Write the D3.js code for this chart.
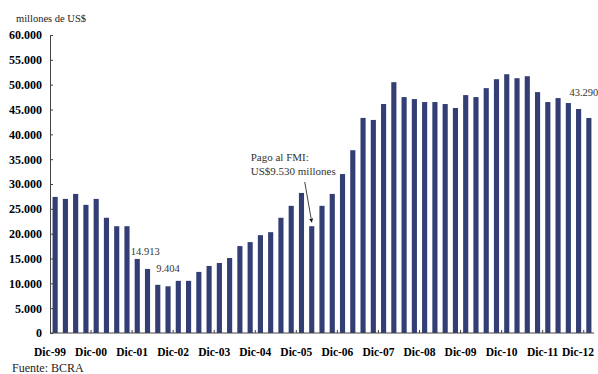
<!DOCTYPE html>
<html>
<head>
<meta charset="utf-8">
<script src="https://cdn.jsdelivr.net/npm/d3@7"></script>
<style>
  body { margin: 0; background: #fff; }
  svg { display: block; }
  svg text { font-family: "Liberation Serif", "DejaVu Serif", "Times New Roman", serif; }
</style>
</head>
<body>
<div id="chart"></div>
<script>
// reservas internacionales BCRA, trimestral, millones de US$
const years = ['99', '00', '01', '02', '03', '04', '05', '06', '07', '08', '09', '10', '11', '12'];
const quarters = ['Mar', 'Jun', 'Sep', 'Dic'];

const reservas = [
  27.4, 27.0, 28.0, 25.8, 27.0, 23.2, 21.5, 21.5, 14.913, 12.9,
  9.7, 9.404, 10.5, 10.5, 12.3, 13.5, 14.1, 15.1, 17.5, 18.3,
  19.7, 20.3, 23.2, 25.6, 28.2, 21.5, 25.6, 28.0, 32.0, 36.8,
  43.3, 42.9, 46.1, 50.5, 47.5, 47.1, 46.5, 46.5, 46.1, 45.3,
  47.9, 47.5, 49.3, 51.1, 52.1, 51.3, 51.7, 48.5, 46.5, 47.3,
  46.3, 45.1, 43.29
].map(v => v * 1000);

const yTicks = [0, 5000, 10000, 15000, 20000, 25000, 30000, 35000, 40000, 45000, 50000, 55000, 60000];

// categories: Dic-99, Mar-00, ... Dic-12
const categories = ['Dic-99'];
years.slice(1).forEach(y => quarters.forEach(q => categories.push(q + '-' + y)));

const data = categories.map((c, i) => ({ label: c, value: reservas[i] }));

const FONT = '"Liberation Serif", "DejaVu Serif", serif';
const width = 598, height = 374;
const margin = { top: 35, right: 4, bottom: 41, left: 50 };

const svg = d3.select('#chart')
  .append('svg')
  .attr('width', width)
  .attr('height', height);

const x = d3.scaleBand()
  .domain(categories)
  .range([margin.left, width - margin.right])
  .paddingInner(0.5)
  .paddingOuter(0.25);

const y = d3.scaleLinear()
  .domain([0, 60000])
  .range([height - margin.bottom, margin.top]);

const fmt = v => d3.format(',')(v).replace(/,/g, '.');
const step = x.step();
const boundary = c => x(c) + x.bandwidth() / 2 - step / 2;

// Bars
svg.selectAll('rect.bar')
  .data(data)
  .join('rect')
    .attr('class', 'bar')
    .attr('x', d => x(d.label))
    .attr('y', d => y(d.value))
    .attr('width', x.bandwidth())
    .attr('height', d => y(0) - y(d.value))
    .attr('fill', '#323e74');

// Y axis
const yAxis = svg.append('g')
  .attr('transform', `translate(${margin.left},0)`)
  .call(d3.axisLeft(y).tickValues(yTicks).tickFormat(fmt).tickSizeInner(-3).tickSizeOuter(0).tickPadding(8));

yAxis.attr('font-family', FONT);
yAxis.select('.domain').attr('stroke', '#444');
yAxis.selectAll('line').attr('stroke', '#444');
yAxis.selectAll('text')
  .attr('fill', '#000')
  .attr('font-family', FONT)
  .style('font-size', '12px')
  .style('font-weight', 'bold');

// X axis (labels at every December, ticks between groups)
const decs = categories.filter(c => c.startsWith('Dic'));
const xg = svg.append('g');
xg.append('line')
  .attr('x1', margin.left).attr('x2', width - margin.right)
  .attr('y1', y(0)).attr('y2', y(0))
  .attr('stroke', '#444');

xg.selectAll('line.tick')
  .data(decs.slice(1))
  .join('line')
    .attr('class', 'tick')
    .attr('x1', d => boundary(d)).attr('x2', d => boundary(d))
    .attr('y1', y(0)).attr('y2', y(0) - 3)
    .attr('stroke', '#444');

xg.selectAll('text')
  .data(decs)
  .join('text')
    .attr('x', d => boundary(d))
    .attr('y', y(0) + 23)
    .attr('text-anchor', 'middle')
    .attr('font-family', FONT)
    .style('font-size', '11.5px')
    .style('font-weight', 'bold')
    .text(d => d)
    .each(function (d) {
      // keep the last label inside the picture
      const half = this.getComputedTextLength() / 2;
      const cx = Math.min(boundary(d), width - 4 - half);
      d3.select(this).attr('x', cx);
    });

// Titles
svg.append('text')
  .attr('x', 16).attr('y', 22)
  .attr('font-family', FONT)
  .style('font-size', '10.5px')
  .attr('fill', '#222')
  .text('millones de US$');

svg.append('text')
  .attr('x', 12).attr('y', 372)
  .attr('font-family', FONT)
  .style('font-size', '12px')
  .attr('fill', '#222')
  .text('Fuente: BCRA');

// Value annotations
const note = (cat, dx, dy, txt) => svg.append('text')
  .attr('x', x(cat) + x.bandwidth() / 2 + dx)
  .attr('y', y(reservas[categories.indexOf(cat)]) + dy)
  .attr('text-anchor', 'middle')
  .attr('font-family', FONT)
  .style('font-size', '10.5px')
  .attr('fill', '#333')
  .text(txt);

note('Dic-01', 8, -4, fmt(reservas[categories.indexOf('Dic-01')]));
note('Sep-02', 0, -14, fmt(reservas[categories.indexOf('Sep-02')]));
note('Dic-12', -5, -22, fmt(reservas[categories.indexOf('Dic-12')]));

// Pago al FMI
const pago = 'Mar-06';
const px = x(pago) + x.bandwidth() / 2;
const py = y(reservas[categories.indexOf(pago)]);

svg.append('defs').append('marker')
  .attr('id', 'arrow')
  .attr('viewBox', '0 0 10 10')
  .attr('refX', 9).attr('refY', 5)
  .attr('markerWidth', 5).attr('markerHeight', 5)
  .attr('orient', 'auto')
  .append('path')
    .attr('d', 'M0,0L10,5L0,10z')
    .attr('fill', '#111');

svg.append('line')
  .attr('x1', px - 7).attr('y1', 182)
  .attr('x2', px).attr('y2', py - 4)
  .attr('stroke', '#111')
  .attr('stroke-width', 0.8)
  .attr('marker-end', 'url(#arrow)');

svg.append('text')
  .attr('x', px - 61).attr('y', 161)
  .attr('font-family', FONT)
  .style('font-size', '11px')
  .attr('fill', '#333')
  .text('Pago al FMI:');

svg.append('text')
  .attr('x', px - 61).attr('y', 175)
  .attr('font-family', FONT)
  .style('font-size', '11px')
  .attr('fill', '#333')
  .text('US$9.530 millones');
</script>
</body>
</html>
